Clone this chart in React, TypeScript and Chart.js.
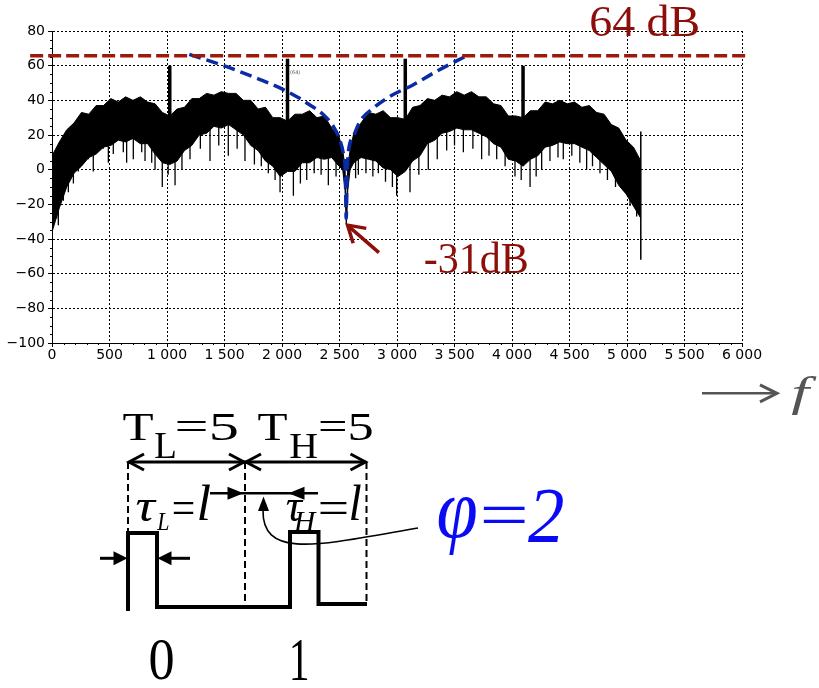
import React, { useEffect, useRef } from "react";
import { Chart, registerables } from "chart.js";

Chart.register(...registerables);

// ---- spectrum band (upper / lower envelope of the dense noise), Hz / dB ----
const bandFreq = [0, 64, 128, 192, 256, 320, 384, 448, 512, 576, 640, 704, 768, 832, 896, 960, 1024, 1088, 1152, 1216, 1280, 1344, 1408, 1472, 1536, 1600, 1664, 1728, 1792, 1856, 1920, 1984, 2048, 2112, 2176, 2240, 2304, 2368, 2432, 2496, 2528, 2548, 2560, 2572, 2592, 2624, 2688, 2752, 2816, 2880, 2944, 3008, 3072, 3136, 3200, 3264, 3328, 3392, 3456, 3520, 3584, 3648, 3712, 3776, 3840, 3904, 3968, 4032, 4096, 4160, 4224, 4288, 4352, 4416, 4480, 4544, 4608, 4672, 4736, 4800, 4864, 4928, 4992, 5056, 5120];
const bandUpper = [8, 16, 23, 27, 33, 32, 37, 37, 41, 39, 42, 40, 42, 39, 38, 33, 31, 35, 36, 41, 41, 44, 43, 45, 44, 44, 40, 40, 35, 36, 30, 30, 28, 32, 32, 34, 30, 31, 24, 19, 11, 2, -31, 2, 11, 21, 27, 33, 32, 34, 30, 30, 29, 36, 37, 41, 40, 43, 42, 45, 43, 45, 42, 42, 38, 37, 31, 31, 30, 34, 34, 39, 38, 40, 38, 39, 36, 37, 33, 32, 26, 24, 17, 13, 5];
const bandLower = [-36, -22, -10, -2, 2, 7, 9, 13, 14, 17, 16, 18, 15, 15, 9, 4, 3, 5, 11, 14, 20, 21, 25, 24, 26, 23, 20, 14, 11, 5, 2, -4, -1, -1, 4, 4, 7, 6, 7, 2, 0, -12, -31, -12, 0, 4, 7, 6, 5, 1, 0, -4, -1, 5, 8, 15, 17, 21, 22, 24, 23, 23, 21, 19, 15, 13, 6, 5, 2, 6, 8, 13, 14, 16, 15, 15, 13, 11, 7, 3, -1, -9, -14, -21, -28];

// ---- isolated downward noise spikes ----
const dipFreq = [40, 55, 99, 142, 186, 229, 316, 359, 446, 490, 533, 620, 649, 707, 780, 809, 867, 896, 959, 1010, 1070, 1130, 1200, 1290, 1374, 1450, 1533, 1610, 1678, 1760, 1820, 1881, 1940, 1983, 2099, 2160, 2215, 2280, 2340, 2403, 2470, 2640, 2664, 2730, 2790, 2838, 2900, 2960, 2997, 3113, 3190, 3272, 3350, 3432, 3500, 3577, 3660, 3736, 3800, 3867, 3940, 4026, 4080, 4157, 4210, 4258, 4330, 4400, 4446, 4520, 4590, 4649, 4700, 4765, 4830, 4900, 4968, 5026, 5084];
const dipLow = [-28, -32, -18, -13, -8, -1, 6, -1, 12, 4, 9, 10, 4, 6, 10, 5, 4, 0, -10, -3, -9, 0, 6, 12, 5, 14, 8, 12, 5, 3, 2, -2, -6, -13, -15, -8, -6, -2, -3, -9, -4, -5, -3, -2, -4, -2, -7, -10, -15, -13, -3, 0, 6, 11, 14, 10, 12, 6, 8, 6, 2, -4, -6, -10, -4, 0, 5, 7, 6, 8, 4, 0, 2, -2, -6, -10, -12, -21, -27];
const dipTop = [0, 0, 5, 10, 15, 15, 20, 20, 25, 25, 25, 25, 25, 25, 25, 25, 20, 20, 15, 15, 15, 20, 25, 30, 30, 30, 30, 30, 25, 25, 20, 20, 15, 10, 10, 15, 15, 20, 20, 10, 15, 15, 15, 20, 20, 15, 15, 10, 10, 10, 20, 20, 25, 30, 30, 30, 30, 30, 25, 25, 20, 15, 15, 15, 20, 20, 25, 25, 25, 25, 25, 20, 20, 15, 15, 10, 5, 0, -5];

// ---- tones (spectral lines) ----
const toneFreq = [1024, 2048, 3072, 4096];
const toneTop = [60, 64, 64, 60];
const toneBase = [22, 18, 18, 22];

// ---- edge lines ----
const edgeFreq = [0, 5120];
const edgeTop = [22, 22];
const edgeLow = [-52, -52];

// ---- blue dashed notch envelope ----
const envFreq = [1194, 1519, 1809, 2012, 2157, 2215, 2360, 2446, 2504, 2533, 2551, 2558, 2567, 2577, 2620, 2678, 2794, 2939, 3142, 3345, 3591];
const envLevel = [66.5, 59.4, 52, 46.2, 41, 38.5, 31.7, 25, 17, 9.5, -2, -28, -2, 10, 19, 27.8, 35.5, 42.3, 49, 56.8, 65.2];

// ---- red dashed reference level ----
const refFreq = [-190, 6030];
const refLevel = [65.7, 65.7];

// ---- axes ----
const xMin = 0, xMax = 6000, xStep = 500, xMinorStep = 100;
const yMin = -100, yMax = 80, yStep = 20, yMinorStep = 5;

const RED = "#8c0f0a";

function segments(fs: number[], a: number[], b: number[]) {
  const out: any[] = [];
  fs.forEach((f, i) => {
    out.push({ x: f, y: a[i] }, { x: f, y: b[i] }, { x: f, y: null });
  });
  return out;
}

function pts(fs: number[], vs: number[]) {
  return fs.map((f, i) => ({ x: f, y: vs[i] }));
}

function fitBox(ctx: CanvasRenderingContext2D, text: string, style: string, family: string,
  left: number, top: number, w: number, h: number, color: string) {
  ctx.save();
  ctx.font = `${style}100px ${family}`;
  ctx.textAlign = "left";
  ctx.textBaseline = "alphabetic";
  const m = ctx.measureText(text);
  const iw = m.actualBoundingBoxLeft + m.actualBoundingBoxRight;
  const ih = m.actualBoundingBoxAscent + m.actualBoundingBoxDescent;
  ctx.translate(left, top);
  ctx.scale(w / iw, h / ih);
  ctx.fillStyle = color;
  ctx.fillText(text, m.actualBoundingBoxLeft, m.actualBoundingBoxAscent);
  ctx.restore();
}

function seg(ctx: CanvasRenderingContext2D, x1: number, y1: number, x2: number, y2: number) {
  ctx.beginPath();
  ctx.moveTo(x1, y1);
  ctx.lineTo(x2, y2);
  ctx.stroke();
}

function chevron(ctx: CanvasRenderingContext2D, tx: number, ty: number, dir: number, len: number, half: number) {
  ctx.beginPath();
  ctx.moveTo(tx - dir * len, ty - half);
  ctx.lineTo(tx, ty);
  ctx.lineTo(tx - dir * len, ty + half);
  ctx.stroke();
}

function triH(ctx: CanvasRenderingContext2D, tx: number, ty: number, dir: number, len: number, half: number) {
  ctx.beginPath();
  ctx.moveTo(tx, ty);
  ctx.lineTo(tx - dir * len, ty - half);
  ctx.lineTo(tx - dir * len, ty + half);
  ctx.closePath();
  ctx.fill();
}

const SERIF = "'Liberation Serif', 'Times New Roman', serif";

const overlay = {
  id: "overlay",
  afterDraw(chart: any) {
    const ctx: CanvasRenderingContext2D = chart.ctx;
    const xs = chart.scales.x;
    const ys = chart.scales.y;
    const area = chart.chartArea;

    // minor ticks
    ctx.save();
    ctx.strokeStyle = "#000";
    ctx.lineWidth = 1;
    for (let f = xMin + xMinorStep; f < xMax; f += xMinorStep) {
      if (f % xStep === 0) continue;
      const px = Math.round(xs.getPixelForValue(f)) + 0.5;
      seg(ctx, px, area.bottom, px, area.bottom + 2);
    }
    for (let v = yMin + yMinorStep; v < yMax; v += yMinorStep) {
      if (v % yStep === 0) continue;
      const py = Math.round(ys.getPixelForValue(v)) + 0.5;
      seg(ctx, area.left - 2, py, area.left, py);
    }
    ctx.restore();

    // chart annotations (value based)
    const X = (f: number) => xs.getPixelForValue(f);
    const Y = (v: number) => ys.getPixelForValue(v);
    fitBox(ctx, "64 dB", "", SERIF, X(4687), Y(94.4), 107, 31, RED);
    fitBox(ctx, "-31dB", "", SERIF, X(3243), Y(-41.7), 102, 31.5, RED);
    ctx.save();
    ctx.font = "5px 'DejaVu Sans'";
    ctx.fillStyle = "#555";
    ctx.fillText("(64)", X(2070), Y(58) + 5);
    ctx.restore();

    // -31 dB arrow
    ctx.save();
    ctx.strokeStyle = RED;
    ctx.lineWidth = 3.5;
    const tx = X(2570), ty = Y(-32), bx = X(2843), by = Y(-47.9);
    seg(ctx, bx, by, tx + 2, ty + 2);
    const ang = Math.atan2(ty - by, tx - bx);
    ctx.beginPath();
    ctx.moveTo(tx - 19 * Math.cos(ang - 0.55), ty - 19 * Math.sin(ang - 0.55));
    ctx.lineTo(tx, ty);
    ctx.lineTo(tx - 19 * Math.cos(ang + 0.55), ty - 19 * Math.sin(ang + 0.55));
    ctx.stroke();
    ctx.restore();

    // ---- "→ f" ----
    ctx.save();
    ctx.strokeStyle = "#555";
    ctx.lineWidth = 2.5;
    seg(ctx, 702, 393.3, 775, 393.3);
    ctx.lineWidth = 3;
    chevron(ctx, 777, 393.3, 1, 17, 8.5);
    ctx.restore();
    fitBox(ctx, "f", "italic ", SERIF, 792, 377, 25, 38, "#555");

    // ---- pulse diagram ----
    ctx.save();
    ctx.strokeStyle = "#000";
    ctx.fillStyle = "#000";
    ctx.lineWidth = 2;
    ctx.setLineDash([7, 4]);
    seg(ctx, 128, 462, 128, 533);
    seg(ctx, 245, 462, 245, 607);
    seg(ctx, 366.5, 462, 366.5, 604);
    ctx.setLineDash([]);
    ctx.lineWidth = 4;
    ctx.lineJoin = "miter";
    ctx.beginPath();
    ctx.moveTo(128, 611);
    ctx.lineTo(128, 533);
    ctx.lineTo(157, 533);
    ctx.lineTo(157, 607);
    ctx.lineTo(290, 607);
    ctx.lineTo(290, 532);
    ctx.lineTo(318.5, 532);
    ctx.lineTo(318.5, 604);
    ctx.lineTo(367, 604);
    ctx.stroke();
    ctx.lineWidth = 3;
    seg(ctx, 129, 462, 365.5, 462);
    chevron(ctx, 129, 462, -1, 15, 8);
    chevron(ctx, 244, 462, 1, 15, 8);
    chevron(ctx, 246, 462, -1, 15, 8);
    chevron(ctx, 365.5, 462, 1, 15, 8);
    seg(ctx, 100, 558.3, 120, 558.3);
    triH(ctx, 127.5, 558.3, 1, 14, 7);
    seg(ctx, 165, 558.3, 190, 558.3);
    triH(ctx, 157.5, 558.3, -1, 14, 7);
    ctx.lineWidth = 2.5;
    seg(ctx, 210, 493.3, 318, 493.3);
    triH(ctx, 243.5, 493.3, 1, 16, 6.5);
    triH(ctx, 288.5, 493.3, -1, 16, 6.5);
    ctx.lineWidth = 1.6;
    ctx.beginPath();
    ctx.moveTo(418, 528);
    ctx.bezierCurveTo(320, 545, 262, 560, 263, 510);
    ctx.stroke();
    ctx.beginPath();
    ctx.moveTo(263.5, 496.5);
    ctx.lineTo(258, 511);
    ctx.lineTo(269, 511);
    ctx.closePath();
    ctx.fill();
    ctx.restore();

    // diagram text
    const K = "#000";
    fitBox(ctx, "T", "", SERIF, 123, 413, 30, 27, K);
    fitBox(ctx, "L", "", SERIF, 155, 433, 20, 25, K);
    fitBox(ctx, "=5", "", SERIF, 177, 414, 60, 27, K);
    fitBox(ctx, "T", "", SERIF, 258, 413, 29, 27, K);
    fitBox(ctx, "H", "", SERIF, 290, 434, 27, 24, K);
    fitBox(ctx, "=5", "", SERIF, 320, 414, 52, 27, K);

    fitBox(ctx, "τ", "italic ", SERIF, 136.7, 500, 20, 21.7, K);
    fitBox(ctx, "L", "italic ", SERIF, 156.7, 513.3, 11.7, 16.7, K);
    fitBox(ctx, "=", "", SERIF, 173.3, 501.7, 20, 11.7, K);
    fitBox(ctx, "l", "italic ", SERIF, 199, 485, 11, 35, K);
    fitBox(ctx, "τ", "italic ", SERIF, 286.7, 500, 16.7, 21.7, K);
    fitBox(ctx, "H", "italic ", SERIF, 293.3, 511.7, 23.3, 20, K);
    fitBox(ctx, "=", "", SERIF, 320, 501.7, 26.7, 11.7, K);
    fitBox(ctx, "l", "italic ", SERIF, 351, 485, 10, 35, K);

    const BLUE = "#0a0af5";
    fitBox(ctx, "φ", "italic ", SERIF, 438, 498, 38, 57, BLUE);
    fitBox(ctx, "=", "", SERIF, 483, 507, 42, 16.5, BLUE);
    fitBox(ctx, "2", "italic ", SERIF, 528, 490, 35, 52, BLUE);

    fitBox(ctx, "0", "", SERIF, 150, 640, 23, 40, K);
    fitBox(ctx, "1", "", SERIF, 292, 640, 15, 40, K);
  },
};

export default function App() {
  const ref = useRef<HTMLCanvasElement | null>(null);

  useEffect(() => {
    if (!ref.current) return;
    const fmtX = (v: number) => {
      if (v >= 1000) {
        const th = Math.floor(v / 1000);
        const rest = String(v % 1000).padStart(3, "0");
        return `${th} ${rest}`;
      }
      return String(v);
    };
    const fmtY = (v: number) => (v < 0 ? "\u2212" + Math.abs(v) : String(v));
    const tickFont = { family: "'DejaVu Sans'", size: 14 };

    const chart = new Chart(ref.current, {
      type: "line",
      data: {
        datasets: [
          {
            label: "ref",
            data: pts(refFreq, refLevel),
            borderColor: "#9b1a0c",
            borderWidth: 3.5,
            borderDash: [13, 5],
            pointRadius: 0,
            fill: false,
            clip: false,
          } as any,
          {
            label: "envelope",
            data: pts(envFreq, envLevel),
            borderColor: "#0b2ba6",
            borderWidth: 3.5,
            borderDash: [12, 6],
            pointRadius: 0,
            fill: false,
            cubicInterpolationMode: "monotone",
            tension: 0.4,
          },
          {
            label: "tones",
            data: segments(toneFreq, toneBase, toneTop),
            borderColor: "#000",
            borderWidth: 3.5,
            pointRadius: 0,
            fill: false,
            spanGaps: false,
          },
          {
            label: "edges",
            data: segments(edgeFreq, edgeTop, edgeLow),
            borderColor: "#000",
            borderWidth: 1.5,
            pointRadius: 0,
            fill: false,
            spanGaps: false,
          },
          {
            label: "dips",
            data: segments(dipFreq, dipTop, dipLow),
            borderColor: "#000",
            borderWidth: 1.3,
            pointRadius: 0,
            fill: false,
            spanGaps: false,
          },
          {
            label: "upper",
            data: pts(bandFreq, bandUpper),
            borderColor: "#000",
            backgroundColor: "#000",
            borderWidth: 1,
            pointRadius: 0,
            fill: "+1",
          },
          {
            label: "lower",
            data: pts(bandFreq, bandLower),
            borderColor: "#000",
            borderWidth: 1,
            pointRadius: 0,
            fill: false,
          },
        ],
      },
      options: {
        animation: false,
        responsive: false,
        events: [],
        layout: { padding: { top: 31, right: 77, bottom: 315, left: 0 } },
        plugins: { legend: { display: false }, tooltip: { enabled: false } },
        scales: {
          x: {
            type: "linear",
            min: xMin,
            max: xMax,
            afterFit: (s: any) => { s.height = 30; },
            ticks: {
              stepSize: xStep,
              autoSkip: false,
              maxRotation: 0,
              padding: 0,
              color: "#000",
              font: tickFont,
              callback: (v: any) => fmtX(Number(v)),
            },
            grid: {
              color: "#000",
              lineWidth: 1,
              drawTicks: true,
              tickLength: 4,
              tickColor: "#000",
              tickWidth: 1,
              tickBorderDash: [],
            } as any,
            border: { display: true, color: "#000", width: 1, dash: [2, 2] },
          },
          y: {
            type: "linear",
            min: yMin,
            max: yMax,
            afterFit: (s: any) => { s.width = 52; },
            ticks: {
              stepSize: yStep,
              padding: 3,
              color: "#000",
              font: tickFont,
              callback: (v: any) => fmtY(Number(v)),
            },
            grid: {
              color: "#000",
              lineWidth: 1,
              drawTicks: true,
              tickLength: 4,
              tickColor: "#000",
              tickWidth: 1,
              tickBorderDash: [],
            } as any,
            border: { display: true, color: "#000", width: 1, dash: [2, 2] },
          },
        },
      },
      plugins: [overlay],
    });
    return () => chart.destroy();
  }, []);

  return (
    <div style={{ position: "absolute", left: 0, top: 0, width: 819, height: 688, background: "#fff" }}>
      <canvas ref={ref} width={819} height={688} style={{ width: 819, height: 688, display: "block" }} />
    </div>
  );
}
